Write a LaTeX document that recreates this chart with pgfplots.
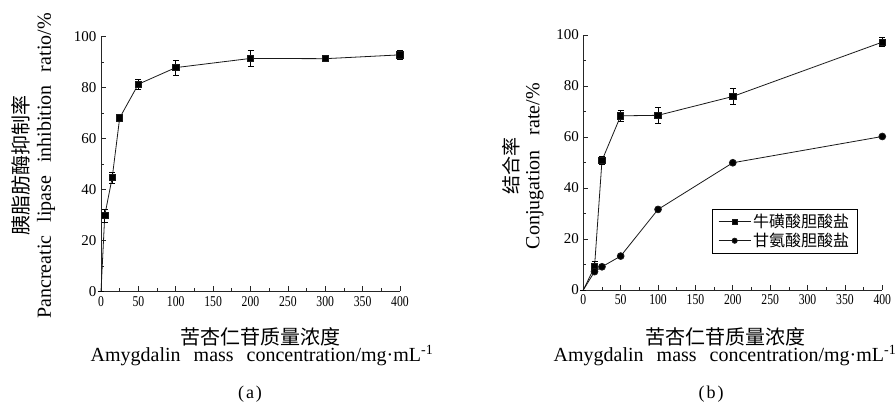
\documentclass[border=0pt]{standalone}
\usepackage{pgfplots}
\pgfplotsset{compat=1.18}
\usepackage{pgfplotstable}
\usepackage{graphicx}
\usepackage{fontspec}
\setmainfont{Liberation Serif}
\newfontfamily\cjk{Noto Sans CJK SC}

\pgfplotstableread{
x y e
0 0 0
5 29.8 2.5
15 44.7 2.1
25 68.1 1.0
50 81.3 2.0
100 87.8 3.0
200 91.4 3.0
300 91.3 0.7
400 92.8 1.7
}\lipase

\pgfplotstableread{
x y e
0 0 0
15 9.0 2.2
25 50.8 1.5
50 68.3 2.2
100 68.5 3.0
200 75.9 3.2
400 97.2 1.8
}\tauro

\pgfplotstableread{
x y e
0 0 0
15 7.2 0
25 9.1 0
50 13.3 0
100 31.6 0
200 49.9 0
400 60.2 0
}\glyco

\pgfplotsset{
  myaxis/.style={
    scale only axis, width=299pt, height=255pt,
    xmin=0, xmax=400, ymin=0, ymax=100,
    axis lines=left,
    axis line style={-, line width=0.8pt, black!85},
    xtick={0,50,...,400}, ytick={0,20,...,100},
    minor x tick num=1, minor y tick num=1,
    tick align=inside,
    major tick length=5pt, minor tick length=3pt,
    tick style={line width=0.7pt, black!85},
    /pgf/number format/assume math mode=true,
    tick label style={font=\rmfamily\fontsize{15}{15}\selectfont, black},
    xticklabel={\scalebox{0.78}[1]{\pgfmathprintnumber{\tick}}},
    xticklabel style={yshift=-1pt},
    yticklabel style={xshift=-1pt},
    clip=false,
  },
  mainline/.style={black!90, line width=0.8pt,
    /pgfplots/error bars/y dir=both, /pgfplots/error bars/y explicit,
    /pgfplots/error bars/error bar style={line width=0.6pt, black},
    /pgfplots/error bars/error mark options={rotate=90, mark size=3pt, line width=0.6pt, black}},
}

\begin{document}
\begin{tikzpicture}
\useasboundingbox (0,0) rectangle (895pt,404pt);

% ---------- (a) ----------
\begin{axis}[myaxis, at={(101pt,112.5pt)}, anchor=south west]
\addplot[mainline, mark=square*, mark size=3.2pt, mark indices={2,3,4,5,6,7,8,9},
  mark options={solid, fill=black}]
  table[x=x, y=y, y error=e] {\lipase};
\end{axis}

% ---------- (b) ----------
\begin{axis}[myaxis, at={(583.3pt,114pt)}, anchor=south west,
  legend style={at={(axis cs:172,31.8)}, anchor=north west,
    draw=black, line width=0.8pt, fill=white,
    font=\cjk\fontsize{16}{18}\selectfont,
    inner xsep=6pt, inner ysep=3pt, row sep=0pt,
    /tikz/every even column/.append style={column sep=3pt}},
  legend cell align=left,
  legend image code/.code={\draw[mark indices={2}, line width=0.8pt, mark size=2.6pt]
    plot coordinates {(0pt,0pt) (16pt,0pt) (32pt,0pt)};}
]
\addplot[mainline, mark=square*, mark size=3.2pt, mark indices={2,3,4,5,6,7},
  mark options={solid, fill=black}]
  table[x=x, y=y, y error=e] {\tauro};
\addlegendentry{牛磺酸胆酸盐}
\addplot[black!90, line width=0.8pt, mark=*, mark size=3.4pt, mark indices={2,3,4,5,6,7},
  mark options={solid, fill=black}]
  table[x=x, y=y] {\glyco};
\addlegendentry{甘氨酸胆酸盐}
\end{axis}

% ---------- labels (a) ----------
\node[rotate=90, font=\cjk\fontsize{20}{20}\selectfont] at (21pt,238pt) {胰脂肪酶抑制率};
\node[rotate=90, font=\fontsize{20}{20}\selectfont] at (46pt,238pt)
  {Pancreatic\hspace{13pt}lipase\hspace{13pt}inhibition\hspace{13pt}ratio/\%};
\node[font=\cjk\fontsize{20}{20}\selectfont, inner sep=0pt] at (260pt,67pt) {苦杏仁苷质量浓度};
\node[anchor=base, font=\fontsize{20}{20}\selectfont, inner sep=0pt] at (262pt,42pt)
  {Amygdalin\hspace{13pt}mass\hspace{13pt}concentration/mg·mL\textsuperscript{-1}};
\node[font=\rmfamily\fontsize{18}{18}\selectfont] at (250pt,10pt) {(\hspace{2pt}a\hspace{2pt})};

% ---------- labels (b) ----------
\node[rotate=90, font=\cjk\fontsize{19}{19}\selectfont] at (511pt,238pt) {结合率};
\node[rotate=90, font=\fontsize{20}{20}\selectfont] at (535pt,238pt)
  {Conjugation\hspace{15pt}rate/\%};
\node[font=\cjk\fontsize{20}{20}\selectfont, inner sep=0pt] at (725pt,67pt) {苦杏仁苷质量浓度};
\node[anchor=base, font=\fontsize{20}{20}\selectfont, inner sep=0pt] at (725pt,42pt)
  {Amygdalin\hspace{13pt}mass\hspace{13pt}concentration/mg·mL\textsuperscript{-1}};
\node[font=\rmfamily\fontsize{18}{18}\selectfont] at (711pt,10pt) {(\hspace{2pt}b\hspace{2pt})};
\end{tikzpicture}
\end{document}
